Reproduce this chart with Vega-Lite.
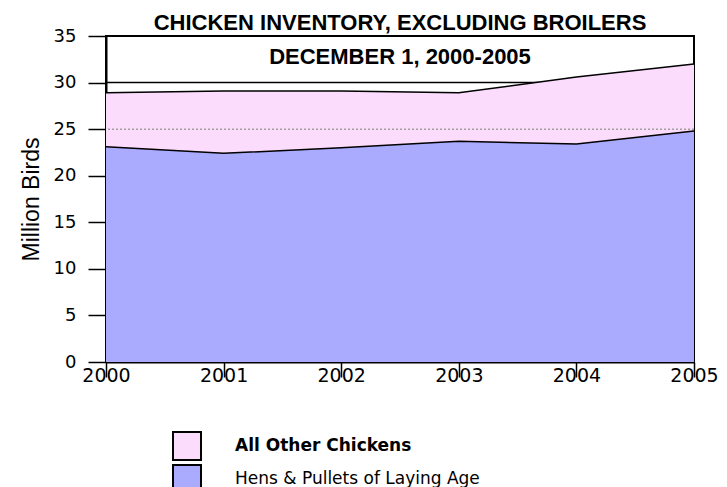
{
  "$schema": "https://vega.github.io/schema/vega-lite/v6.json",
  "width": 588,
  "height": 326,
  "autosize": "none",
  "padding": {"left": 106, "top": 36, "right": 33, "bottom": 125},
  "background": "white",
  "config": {
    "view": {"stroke": "black", "strokeWidth": 2},
    "font": "DejaVu Sans"
  },
  "title": {
    "text": ["CHICKEN INVENTORY, EXCLUDING BROILERS", "DECEMBER 1, 2000-2005"],
    "font": "Liberation Sans",
    "fontSize": 22,
    "fontWeight": "bold",
    "color": "black",
    "lineHeight": 34,
    "anchor": "middle",
    "offset": -42
  },
  "data": {
    "values": [
      {"year": 2000, "series": "Hens & Pullets of Laying Age", "value": 23.1},
      {"year": 2001, "series": "Hens & Pullets of Laying Age", "value": 22.4},
      {"year": 2002, "series": "Hens & Pullets of Laying Age", "value": 23.0},
      {"year": 2003, "series": "Hens & Pullets of Laying Age", "value": 23.7},
      {"year": 2004, "series": "Hens & Pullets of Laying Age", "value": 23.4},
      {"year": 2005, "series": "Hens & Pullets of Laying Age", "value": 24.8},
      {"year": 2000, "series": "All Other Chickens", "value": 5.8},
      {"year": 2001, "series": "All Other Chickens", "value": 6.7},
      {"year": 2002, "series": "All Other Chickens", "value": 6.1},
      {"year": 2003, "series": "All Other Chickens", "value": 5.2},
      {"year": 2004, "series": "All Other Chickens", "value": 7.2},
      {"year": 2005, "series": "All Other Chickens", "value": 7.2}
    ]
  },
  "encoding": {
    "x": {
      "field": "year",
      "type": "quantitative",
      "scale": {"domain": [2000, 2005], "nice": false, "zero": false},
      "axis": {
        "values": [2000, 2001, 2002, 2003, 2004, 2005],
        "format": "d",
        "title": null,
        "grid": false,
        "domainColor": "black",
        "domainWidth": 2,
        "tickColor": "black",
        "tickWidth": 1.5,
        "tickSize": 15,
        "labelPadding": -11,
        "labelFontSize": 19,
        "labelColor": "black",
        "labelFlush": false
      }
    },
    "y": {
      "field": "value",
      "type": "quantitative",
      "stack": "zero",
      "scale": {"domain": [0, 35], "nice": false},
      "axis": {
        "values": [0, 5, 10, 15, 20, 25, 30, 35],
        "title": "Million Birds",
        "titleFont": "Liberation Sans",
        "titleFontSize": 23,
        "titleFontWeight": "normal",
        "titleColor": "black",
        "titlePadding": 10,
        "grid": false,
        "domainColor": "black",
        "domainWidth": 2,
        "tickColor": "black",
        "tickWidth": 1.5,
        "tickSize": 18,
        "labelPadding": 12,
        "labelFontSize": 18,
        "labelColor": "black"
      }
    },
    "order": {"field": "series", "sort": "descending"}
  },
  "layer": [
    {
      "data": {"values": [{"level": 30}]},
      "mark": {"type": "rule", "color": "black", "strokeWidth": 1.5},
      "encoding": {
        "x": null,
        "order": null,
        "y": {"field": "level", "type": "quantitative"}
      }
    },
    {
      "mark": {"type": "area"},
      "encoding": {
        "color": {
          "field": "series",
          "type": "nominal",
          "scale": {
            "domain": ["All Other Chickens", "Hens & Pullets of Laying Age"],
            "range": ["#fcdcfc", "#aaaaff"]
          },
          "legend": {
            "title": null,
            "orient": "none",
            "legendX": 66,
            "legendY": 395,
            "symbolType": "square",
            "symbolSize": 784,
            "symbolStrokeColor": "black",
            "symbolStrokeWidth": 2,
            "symbolOpacity": 1,
            "labelFontSize": 17,
            "labelColor": "black",
            "labelOffset": 33,
            "rowPadding": -4,
            "labelLimit": 400,
            "encode": {
              "labels": {
                "update": {
                  "fontWeight": {"signal": "datum.value === 'All Other Chickens' ? 'bold' : 'normal'"}
                }
              }
            }
          }
        },
        "opacity": {"value": 1}
      }
    },
    {
      "data": {"values": [{"level": 25}]},
      "mark": {"type": "rule", "color": "#a0a0a0", "strokeWidth": 1.5, "strokeDash": [2, 2]},
      "encoding": {
        "x": null,
        "order": null,
        "y": {"field": "level", "type": "quantitative"}
      }
    },
    {
      "mark": {"type": "line", "color": "black", "strokeWidth": 1.5},
      "encoding": {
        "detail": {"field": "series", "type": "nominal"}
      }
    }
  ]
}
